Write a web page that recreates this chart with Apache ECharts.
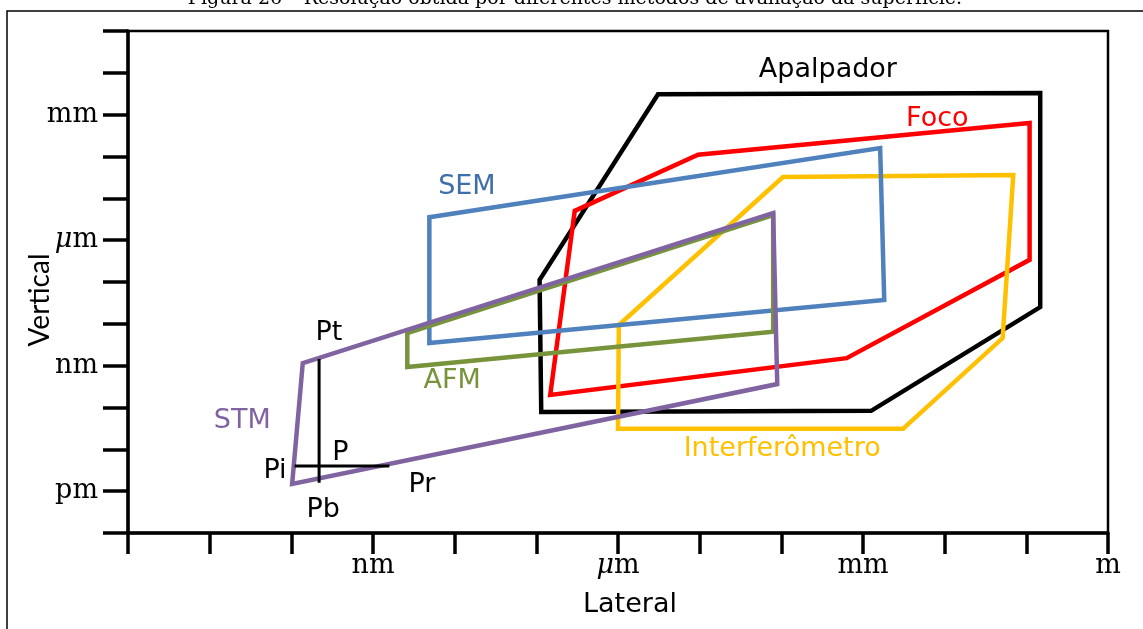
<!DOCTYPE html>
<html>
<head>
<meta charset="utf-8">
<script src="https://cdn.jsdelivr.net/npm/echarts@6/dist/echarts.min.js"></script>
<style>html,body{margin:0;padding:0;background:#fff;}#c{width:1143px;height:629px;}</style>
</head>
<body>
<div id="c"></div>
<script>
// Axis units: log10 of length in metres (decades)
const xTickLabels = {'-9':'nm','-6':'{i|μ}m','-3':'mm','0':'m'};
const yTickLabels = {'-3':'mm','-6':'{i|μ}m','-9':'nm','-12':'pm'};

// Polygon vertices [lateral, vertical] in decades
const apalpador = [[-6.94,-10.11],[-6.96,-6.95],[-5.51,-2.51],[-0.83,-2.48],[-0.83,-7.60],[-2.90,-10.08]];
const foco = [[-6.83,-9.70],[-6.53,-5.30],[-5.02,-3.96],[-0.96,-3.20],[-0.96,-6.47],[-3.20,-8.82]];
const interferometro = [[-6.00,-10.51],[-5.99,-8.03],[-3.98,-4.49],[-1.16,-4.44],[-1.29,-8.34],[-2.51,-10.51]];
const sem = [[-8.31,-8.46],[-8.31,-5.45],[-2.79,-3.80],[-2.74,-7.43]];
const afm = [[-8.58,-8.22],[-8.58,-9.03],[-4.10,-8.19],[-4.10,-5.40]];
const stm = [[-9.86,-8.94],[-9.99,-11.83],[-4.05,-9.44],[-4.10,-5.35]];
const crossV = [[-9.66,-8.84],[-9.66,-11.80]];
const crossH = [[-9.96,-11.40],[-8.80,-11.40]];

const labelNames = ['Apalpador','Foco','SEM','AFM','STM','Interferômetro','Pt','P','Pi','Pr','Pb'];
const labelPos = [[-3.43,-1.93],[-2.09,-3.10],[-7.85,-4.73],[-8.03,-9.37],[-10.60,-10.32],[-3.99,-10.99],[-9.54,-8.22],[-9.40,-11.09],[-10.20,-11.52],[-8.40,-11.85],[-9.61,-12.45]];
const labelColors = ['#000000','#FF0000','#3F6FAA','#77933C','#8064A2','#FFC000','#000000','#000000','#000000','#000000','#000000'];

function closed(pts){ return pts.concat([pts[0], pts[1]]); }
function poly(data, color, width, z){
  return {type:'line', data:data, symbol:'none', showSymbol:false, silent:true, animation:false, z:z,
    lineStyle:{color:color, width:width, join:'miter', cap:'butt'}};
}

const chart = echarts.init(document.getElementById('c'), null, {renderer:'canvas'});
const serifLbl = {fontFamily:'DejaVu Serif', fontSize:27, color:'#000',
  rich:{i:{fontFamily:'DejaVu Serif', fontSize:27, fontStyle:'italic', color:'#000'}}};

chart.setOption({
  animation:false,
  backgroundColor:'#fff',
  grid:{left:128, right:35, top:31, bottom:96, show:true, borderColor:'#000', borderWidth:2.5, backgroundColor:'transparent'},
  xAxis:{type:'value', min:-12, max:0, interval:1,
    axisLine:{show:true, onZero:false, lineStyle:{color:'#000', width:3.5}},
    axisTick:{show:true, length:21, lineStyle:{color:'#000', width:3.5}},
    splitLine:{show:false},
    axisLabel:Object.assign({margin:19, showMaxLabel:true, showMinLabel:true, hideOverlap:false,
      formatter:v => xTickLabels[String(v)] || ''}, serifLbl)},
  yAxis:{type:'value', min:-13, max:-1, interval:1,
    axisLine:{show:true, onZero:false, lineStyle:{color:'#000', width:3.5}},
    axisTick:{show:true, length:25, lineStyle:{color:'#000', width:3.5}},
    splitLine:{show:false},
    axisLabel:Object.assign({margin:30, hideOverlap:false,
      formatter:v => yTickLabels[String(v)] || ''}, serifLbl)},
  graphic:[
    {type:'rect', shape:{x:7, y:11, width:1200, height:700}, style:{fill:'none', stroke:'#000', lineWidth:1.5}, silent:true},
    {type:'text', x:575, y:9, style:{text:'Figura 26 – Resolução obtida por diferentes métodos de avaliação da superfície.', fontFamily:'DejaVu Serif', fontSize:19, fill:'#000', align:'center', verticalAlign:'bottom'}, silent:true},
    {type:'text', x:40, y:300, rotation:Math.PI/2, style:{text:'Vertical', fontFamily:'Lato', fontSize:28, fill:'#000', align:'center', verticalAlign:'middle'}, silent:true},
    {type:'text', x:630, y:605, style:{text:'Lateral', fontFamily:'DejaVu Sans', fontSize:27, fill:'#000', align:'center', verticalAlign:'middle'}, silent:true}
  ],
  series:[
    poly(closed(apalpador), '#000000', 4.5, 2),
    poly(closed(foco), '#FF0000', 4.5, 3),
    poly(closed(interferometro), '#FFC000', 4.5, 4),
    poly(closed(sem), '#4F81BD', 4.5, 5),
    poly(closed(afm), '#77933C', 4.5, 6),
    poly(closed(stm), '#8064A2', 4.5, 7),
    poly(crossV, '#000000', 3, 8),
    poly(crossH, '#000000', 3, 8),
    {type:'scatter', silent:true, animation:false, z:10, symbolSize:0,
      label:{show:true, position:'inside', formatter:'{b}', fontFamily:'DejaVu Sans', fontSize:27, textBorderWidth:0, opacity:1},
      data: labelNames.map((n,i) => ({name:n, value:labelPos[i], itemStyle:{color:labelColors[i]},
        label:{color:labelColors[i], textBorderWidth:0}}))}
  ]
});
</script>
</body>
</html>
